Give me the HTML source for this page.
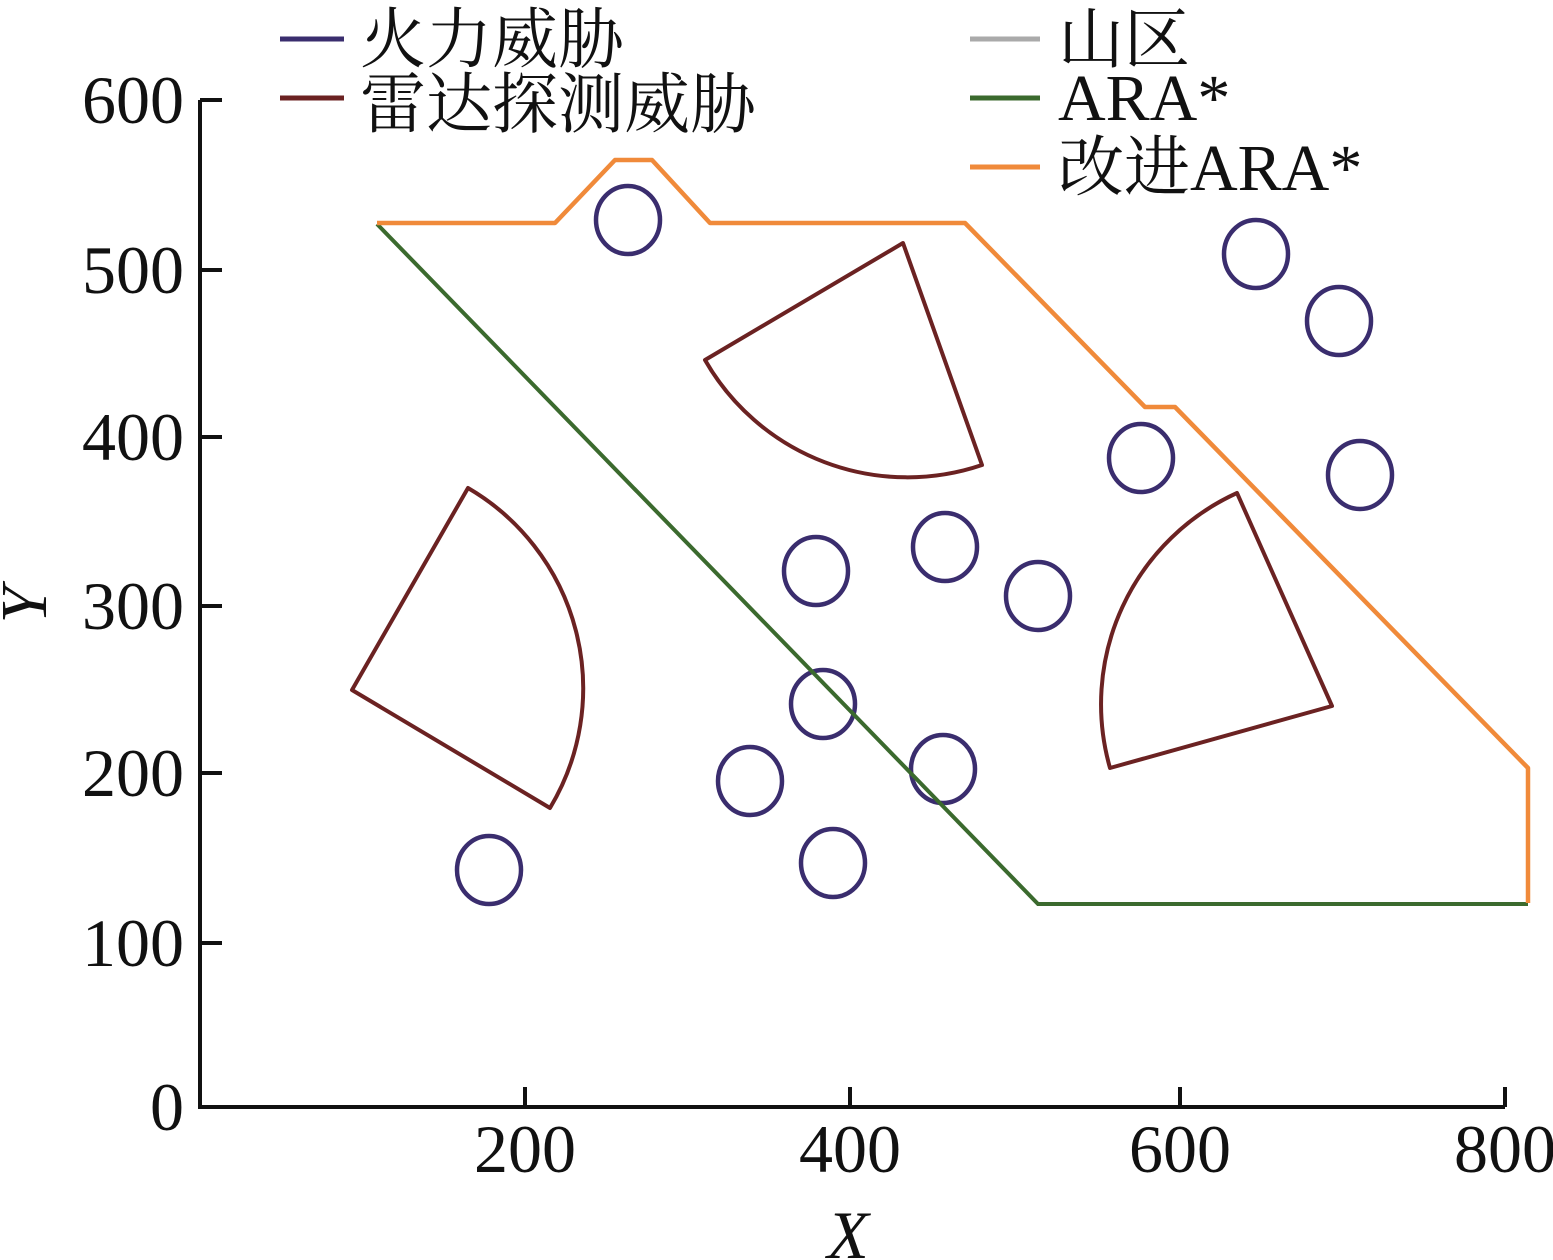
<!DOCTYPE html>
<html><head><meta charset="utf-8"><style>
html,body{margin:0;padding:0;background:#fff;}
svg{display:block;}
text{font-family:"Liberation Serif","Noto Serif CJK SC",serif;fill:#111;}
</style></head><body>
<svg width="1553" height="1260" viewBox="0 0 1553 1260" xmlns="http://www.w3.org/2000/svg">
<g stroke="#111" stroke-width="4" fill="none">
<path d="M200 100 L200 1107 L1505 1107"/>
<path d="M200 100 H222 M200 270 H222 M200 437 H222 M200 606 H222 M200 773 H222 M200 943 H222"/>
<path d="M525 1107 V1087 M850 1107 V1087 M1180 1107 V1087 M1505 1107 V1087"/>
</g>
<g font-size="68" text-anchor="end">
<text x="184" y="123">600</text>
<text x="184" y="293">500</text>
<text x="184" y="460">400</text>
<text x="184" y="629">300</text>
<text x="184" y="796">200</text>
<text x="184" y="966">100</text>
<text x="184" y="1130">0</text>
</g>
<g font-size="68" text-anchor="middle">
<text x="525" y="1172">200</text>
<text x="850" y="1172">400</text>
<text x="1180" y="1172">600</text>
<text x="1505" y="1172">800</text>
<text x="848" y="1258" font-style="italic">X</text>
</g>
<text x="0" y="0" font-size="66" font-style="italic" text-anchor="middle" transform="translate(46,605) rotate(-90)">Y</text>

<g stroke="#6b2222" stroke-width="4" fill="none" stroke-linejoin="round">
<path d="M352 690 L468 488 A232 232 0 0 1 550 808 Z"/>
<path d="M903 243 L705 360 A233 233 0 0 0 982 465 Z"/>
<path d="M1332 706 L1237 493 A232 232 0 0 0 1110 768 Z"/>
</g>
<g stroke="#3a2d6e" stroke-width="4.5" fill="none">
<ellipse cx="628" cy="220" rx="32" ry="34"/>
<ellipse cx="1256" cy="254" rx="32" ry="34"/>
<ellipse cx="1339" cy="321" rx="32" ry="34"/>
<ellipse cx="1141" cy="458" rx="32" ry="34"/>
<ellipse cx="1360" cy="475" rx="32" ry="34"/>
<ellipse cx="945" cy="547" rx="32" ry="34"/>
<ellipse cx="816" cy="571" rx="32" ry="34"/>
<ellipse cx="1038" cy="596" rx="32" ry="34"/>
<ellipse cx="823" cy="704" rx="32" ry="34"/>
<ellipse cx="750" cy="781" rx="32" ry="34"/>
<ellipse cx="943" cy="769" rx="32" ry="34"/>
<ellipse cx="833" cy="863" rx="32" ry="34"/>
<ellipse cx="489" cy="870" rx="32" ry="34"/>
</g>
<path d="M377 224 L1038 904 L1528 904" stroke="#3b6a2e" stroke-width="4" fill="none"/>
<path d="M377 223 L555 223 L615 160 L652 160 L710 223 L965 223 L1145 407 L1175 407 L1528 768 L1528 903" stroke="#f08a3a" stroke-width="4.5" fill="none" stroke-linejoin="round"/>

<g stroke-width="5">
<line x1="280" y1="39" x2="344" y2="39" stroke="#3a2d6e"/>
<line x1="280" y1="98" x2="344" y2="98" stroke="#6b2222"/>
<line x1="970" y1="39" x2="1040" y2="39" stroke="#aaaaaa"/>
<line x1="970" y1="98" x2="1040" y2="98" stroke="#3b6a2e"/>
<line x1="970" y1="167" x2="1040" y2="167" stroke="#f08a3a"/>
</g>
<g font-size="66">
<text x="360" y="62">火力威胁</text>
<text x="360" y="127">雷达探测威胁</text>
<text x="1058" y="62">山区</text>
<text x="1058" y="120">ARA*</text>
<text x="1058" y="190">改进ARA*</text>
</g>
</svg>
</body></html>
